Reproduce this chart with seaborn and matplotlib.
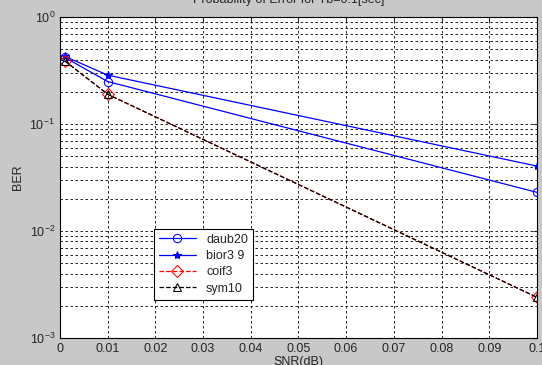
import numpy as np
import matplotlib.pyplot as plt
import seaborn as sns
from matplotlib.ticker import LogLocator, NullFormatter

# Dados
snr = [0.001, 0.01, 0.1]
daub20 = [0.42, 0.25, 0.023]
bior39 = [0.43, 0.287, 0.0405]
coif3 = [0.39, 0.19, 0.0024]
sym10 = [0.39, 0.19, 0.0024]
nomes = ["daub20", "bior3 9", "coif3", "sym10"]

sns.set_style("white")
plt.rcParams['font.family'] = ['Liberation Sans', 'DejaVu Sans']
plt.rcParams['mathtext.fontset'] = 'custom'
plt.rcParams['mathtext.rm'] = 'Liberation Sans'

fig = plt.figure(figsize=(5.42, 3.65), dpi=100, facecolor='#c8c8c8')
ax = fig.add_axes([0.1107, 0.074, 0.88, 0.879])
ax.set_facecolor('white')

estilos = [
    dict(y=daub20, color='#0000ff', ls='-', marker='o', mfc='none'),
    dict(y=bior39, color='#0000ff', ls='-', marker='*', mfc='#0000ff'),
    dict(y=coif3, color='#ff0000', ls='--', marker='D', mfc='none'),
    dict(y=sym10, color='black', ls='--', marker='^', mfc='none'),
]
for nome, e in zip(nomes, estilos):
    sns.lineplot(x=snr, y=e['y'], ax=ax, color=e['color'], linestyle=e['ls'],
                 marker=e['marker'], markerfacecolor=e['mfc'], markeredgecolor=e['color'],
                 markersize=6, linewidth=0.9, label=nome)

ax.set_yscale('log')
ax.set_xlim(0, 0.1)
ax.set_ylim(1e-3, 1)
ax.set_xticks(np.arange(0, 0.101, 0.01))
ax.set_xticklabels(['0', '0.01', '0.02', '0.03', '0.04', '0.05', '0.06', '0.07', '0.08', '0.09', '0.1'])
ax.yaxis.set_minor_locator(LogLocator(base=10, subs=np.arange(2, 10)))
ax.yaxis.set_minor_formatter(NullFormatter())
ax.tick_params(direction='in', which='both', labelsize=9, top=True, right=True, length=3)
ax.tick_params(which='minor', length=0)
ax.grid(True, which='both', color='black', linestyle=(0, (3, 3)), linewidth=0.6)
for s in ax.spines.values():
    s.set_color('black')
    s.set_linewidth(0.8)

ax.set_xlabel("SNR(dB)", fontsize=9, labelpad=1)
ax.set_ylabel("BER", fontsize=9)
ax.text(0.48, 1.035, "Probability of Error for Tb=0.1[sec]", transform=ax.transAxes,
        ha='center', va='bottom', fontsize=9)

leg = ax.legend(loc='lower left', bbox_to_anchor=(0.183, 0.1), fontsize=9,
                fancybox=False, framealpha=1, edgecolor='black', handlelength=3,
                borderpad=0.4, labelspacing=0.35)
leg.get_frame().set_linewidth(0.8)

fig.savefig("out.png", dpi=100, facecolor=fig.get_facecolor())
